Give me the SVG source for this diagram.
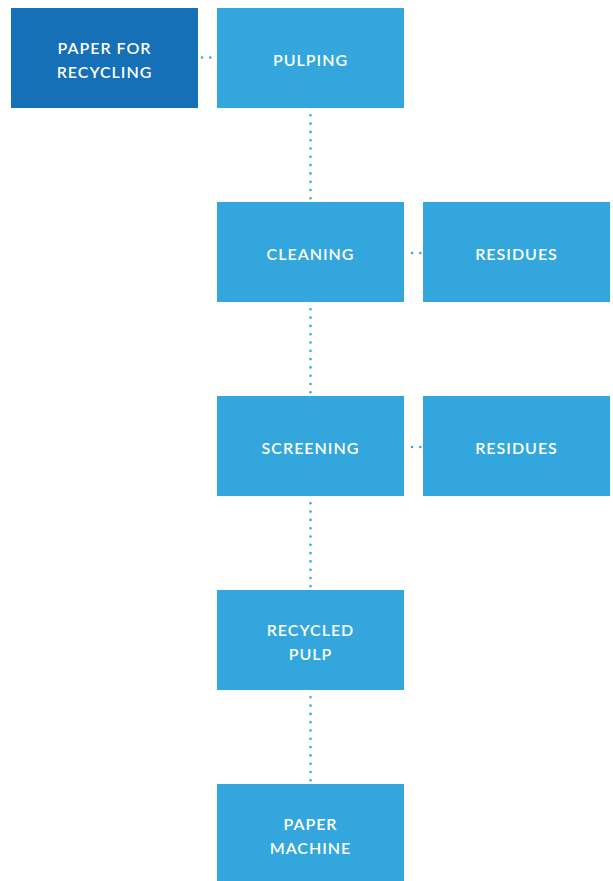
<svg xmlns="http://www.w3.org/2000/svg" width="613" height="881" viewBox="0 0 613 881">
<style>
.box{fill:#33a7dd}
.dark{fill:#1570b8}
.t{fill:#fff;font-family:Lato,"Open Sans",sans-serif;font-weight:600;font-size:16px;letter-spacing:1px;text-anchor:middle}
.c{stroke:#33a7dd;stroke-width:2.6;stroke-linecap:round;stroke-dasharray:0 8.3;fill:none}
</style>
<rect width="613" height="881" fill="#fff"/>
<g id="connectors">
<line class="c" x1="202" y1="57.5" x2="213" y2="57.5"/>
<line class="c" x1="310.5" y1="107" x2="310.5" y2="200"/>
<line class="c" x1="412" y1="253" x2="421" y2="253"/>
<line class="c" x1="310.5" y1="301" x2="310.5" y2="394"/>
<line class="c" x1="412" y1="447" x2="421" y2="447"/>
<line class="c" x1="310.5" y1="495" x2="310.5" y2="588"/>
<line class="c" x1="310.5" y1="689" x2="310.5" y2="782"/>
</g>
<g id="paper-for-recycling"><rect class="dark" x="11" y="8" width="187" height="100"/><text class="t" x="104.5" y="54">PAPER FOR</text><text class="t" x="104.5" y="78">RECYCLING</text></g>
<g id="pulping"><rect class="box" x="217" y="8" width="187" height="100"/><text class="t" x="310.5" y="66">PULPING</text></g>
<g id="cleaning"><rect class="box" x="217" y="202" width="187" height="100"/><text class="t" x="310.5" y="260">CLEANING</text></g>
<g id="residues-1"><rect class="box" x="423" y="202" width="187" height="100"/><text class="t" x="516.5" y="260">RESIDUES</text></g>
<g id="screening"><rect class="box" x="217" y="396" width="187" height="100"/><text class="t" x="310.5" y="454">SCREENING</text></g>
<g id="residues-2"><rect class="box" x="423" y="396" width="187" height="100"/><text class="t" x="516.5" y="454">RESIDUES</text></g>
<g id="recycled-pulp"><rect class="box" x="217" y="590" width="187" height="100"/><text class="t" x="310.5" y="636">RECYCLED</text><text class="t" x="310.5" y="660">PULP</text></g>
<g id="paper-machine"><rect class="box" x="217" y="784" width="187" height="97"/><text class="t" x="310.5" y="830">PAPER</text><text class="t" x="310.5" y="854">MACHINE</text></g>
</svg>
